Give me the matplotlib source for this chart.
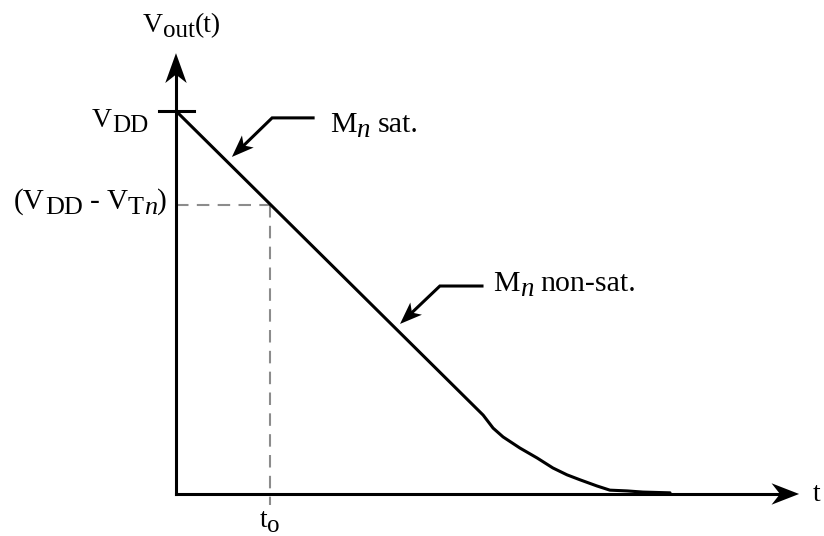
import matplotlib.pyplot as plt
import numpy as np
from matplotlib.patches import Polygon
from matplotlib.transforms import offset_copy

plt.rcParams['font.family'] = ['Liberation Serif', 'DejaVu Serif']

# discharge curve, output voltage normalised to VDD
t_vals = [0.0, 0.802, 0.828, 0.854, 0.898, 0.943, 0.984, 1.021, 1.055,
          1.099, 1.133, 1.178, 1.219, 1.290]
v_out = [1.0, 0.206, 0.172, 0.149, 0.120, 0.094, 0.068, 0.050, 0.037,
         0.021, 0.010, 0.008, 0.005, 0.003]
v_dd = 1.0
v_tn = 0.245
t_o = 0.245

x_max = 1.627
y_max = 1.151

fig = plt.figure(figsize=(8.24, 5.36), dpi=100)
ax = fig.add_axes([0, 0, 1, 1])
ax.set_xlim(-0.4595, 1.692)
ax.set_ylim(-0.1097, 1.2898)
ax.axis('off')

lw = 2.2
FS = 20
renderer = fig.canvas.get_renderer()


def head(tip, angle, length, half, notch):
    """filled arrowhead with a notched back"""
    d = np.array([np.cos(angle), np.sin(angle)])
    n = np.array([-d[1], d[0]])
    tip = np.array(tip)
    back = tip - d * length
    pts = [tip, back + n * half, tip - d * (length - notch), back - n * half]
    ax.add_patch(Polygon(pts, closed=True, color='black', lw=0, zorder=5))
    return tip - d * (length - notch)


def label(x, y, parts, ha='left', size=FS):
    """text with near full-size, lowered subscripts; parts are (text, kind)
    kind: '' normal, 's' subscript, 'si' italic subscript, ' ' a word gap"""
    items = []
    for s, kind in parts:
        if kind == ' ':
            items.append((None, size * 0.25, 0))
            continue
        sub = kind.startswith('s')
        t = ax.text(x, y, s, fontsize=size * (0.9 if sub else 1),
                    fontstyle='italic' if kind.endswith('i') else 'normal',
                    ha='left', va='baseline')
        w = t.get_window_extent(renderer).width * 72 / fig.dpi
        items.append((t, w, -size * 0.17 if sub else 0))
    total = sum(w for _, w, _ in items)
    pos = {'left': 0, 'center': -total / 2, 'right': -total}[ha]
    for t, w, dy in items:
        if t is not None:
            t.set_transform(offset_copy(ax.transData, fig=fig, x=pos, y=dy, units='points'))
        pos += w


# reference levels (dashed)
ax.plot([0, t_o], [v_dd - v_tn, v_dd - v_tn], color='#8c8c8c', lw=1.5,
        ls=(0, (6, 4)), zorder=1)
ax.plot([t_o, t_o], [v_dd - v_tn, -0.029], color='#8c8c8c', lw=1.5,
        ls=(0, (6, 4)), zorder=1)

# axes with arrows
ax.plot([0, x_max - 0.03], [0, 0], color='black', lw=lw, solid_capstyle='projecting', zorder=4)
ax.plot([0, 0], [0, y_max - 0.03], color='black', lw=lw, solid_capstyle='projecting', zorder=4)
head((x_max, 0), 0, 0.072, 0.028, 0.022)
head((0, y_max), np.pi / 2, 0.078, 0.028, 0.022)

# VDD tick
ax.plot([-0.044, 0.047], [v_dd, v_dd], color='black', lw=lw, zorder=4)

# output curve
ax.plot(t_vals, v_out, color='black', lw=lw, solid_joinstyle='round',
        solid_capstyle='round', zorder=3)

# leaders with labels
leaders = [
    ((0.358, 0.982), (0.251, 0.982), (0.146, 0.880), (0.402, 0.945),
     [('M', ''), ('n', 'si'), (None, ' '), ('sat.', '')]),
    ((0.799, 0.543), (0.689, 0.543), (0.585, 0.444), (0.828, 0.530),
     [('M', ''), ('n', 'si'), (None, ' '), ('non-sat.', '')]),
]
for start, elbow, tip, txt_pos, parts in leaders:
    ang = np.arctan2(tip[1] - elbow[1], tip[0] - elbow[0])
    base = head(tip, ang, 0.058, 0.022, 0.015)
    ax.plot([start[0], elbow[0], base[0]], [start[1], elbow[1], base[1]],
            color='black', lw=lw, solid_joinstyle='miter', zorder=4)
    label(txt_pos[0], txt_pos[1], parts, size=21.5)

# axis labels
label(-0.086, 1.205, [('V', ''), ('out', 's'), ('(t)', '')])
label(1.672, -0.018, [('t', '')], ha='center')
label(-0.073, 0.958, [('V', ''), ('DD', 's')], ha='right')
label(-0.024, 0.744, [('(V', ''), ('DD', 's'), (None, ' '), ('-', ''), (None, ' '),
                      ('V', ''), ('T', 's'), ('n', 'si'), (')', '')], ha='right', size=21)
label(t_o, -0.086, [('t', ''), ('o', 's')], ha='center')

fig.savefig('out.png', dpi=100)
